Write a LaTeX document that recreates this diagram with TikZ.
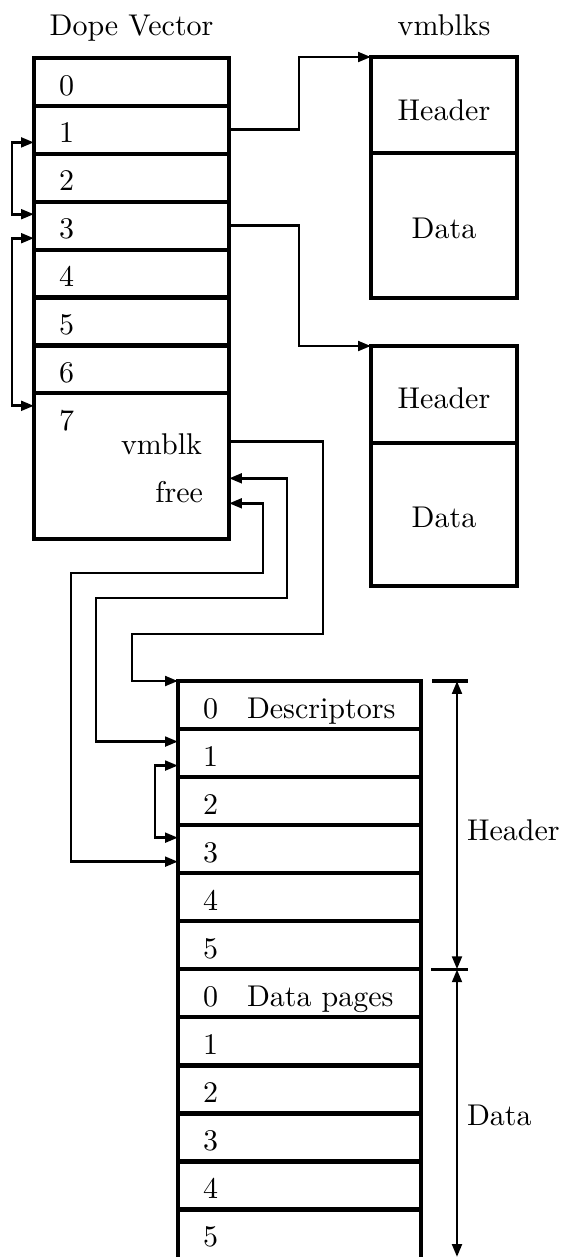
\documentclass[tikz,border=0pt]{standalone}
\usetikzlibrary{arrows.meta,calc}
\newdimen\pxu \pxu=0.33333pt
\begin{document}
\begin{tikzpicture}[x=0.33333pt,y=-0.33333pt,
  frame/.style={line width=1.05pt},
  sepline/.style={line width=1.4pt},
  link/.style={line width=0.95pt},
  >={Triangle[length=4.3pt,width=3.2pt]},
  cell/.style={rectangle,draw=none,inner sep=0pt,outer sep=0pt,anchor=north west},
  lbl/.style={inner sep=0pt,outer sep=0pt}]
\useasboundingbox (0,0) rectangle (565,1257);

% ---- dope vector: slots 0..7 ----
\foreach \i in {0,...,6}
  \node[cell,minimum width=195\pxu,minimum height=47.9\pxu] (dv\i) at (34,{58+47.9*\i}) {};
\node[cell,minimum width=195\pxu,minimum height=145.7\pxu] (dv7) at (34,393.3) {};
\draw[frame] (dv0.north west) rectangle (dv7.south east);
\foreach \i in {1,...,7}
  \draw[sepline] (dv\i.north west) -- ($(dv\i.north east)+(1.5,0)$);
\foreach \i in {0,...,7}
  \node[lbl,anchor=base west] (dvl\i) at ($(dv\i.north west)+(25,37)$) {\i};
\node[lbl,anchor=base] (dvtitle) at ($(dv0.north)+(0,-23)$) {Dope Vector};
\node[lbl,anchor=base east] (vmblk) at ($(dv7.north east)+(-27,61)$) {vmblk};
\node[lbl,anchor=base east] (free) at ($(dv7.north east)+(-26,109)$) {free};

% ---- the two vmblks ----
\node[cell,minimum width=146\pxu,minimum height=96\pxu] (vh1) at (371,57) {};
\node[cell,minimum width=146\pxu,minimum height=145\pxu] (vd1) at (371,153) {};
\node[cell,minimum width=146\pxu,minimum height=97\pxu] (vh2) at (371,346) {};
\node[cell,minimum width=146\pxu,minimum height=143\pxu] (vd2) at (371,443) {};
\draw[frame] (vh1.north west) rectangle (vd1.south east);
\draw[sepline] (vd1.north west) -- (vd1.north east);
\draw[frame] (vh2.north west) rectangle (vd2.south east);
\draw[sepline] (vd2.north west) -- (vd2.north east);
\node[lbl,anchor=base] (vmtitle) at ($(vh1.north)+(0,-22)$) {vmblks};
\node[lbl,anchor=base] (vhl1) at ($(vh1.north)+(0,63)$) {Header};
\node[lbl,anchor=base] (vdl1) at ($(vd1.north)+(0,85)$) {Data};
\node[lbl,anchor=base] (vhl2) at ($(vh2.north)+(0,62)$) {Header};
\node[lbl,anchor=base] (vdl2) at ($(vd2.north)+(0,84.5)$) {Data};

% ---- the vmblk layout: header pages then data pages ----
\foreach \i in {0,...,10}
  \node[cell,minimum width=243\pxu,minimum height=48.05\pxu] (lb\i) at (178,{681+48.05*\i}) {};
\node[cell,minimum width=243\pxu,minimum height=50\pxu] (lb11) at (178,{681+48.05*11}) {};
\draw[frame] (lb0.north west) rectangle (lb11.south east);
\foreach \i in {1,...,11}
  \draw[sepline] (lb\i.north west) -- ($(lb\i.north east)+(1.5,0)$);
\foreach \r [evaluate=\r as \d using {int(mod(\r,6))}] in {0,...,11}
  \node[lbl,anchor=base west] (lbl\r) at ($(lb\r.north west)+(25,37)$) {\d};
\node[lbl,anchor=base west] (desc) at ($(lb0.north west)+(69,37)$) {Descriptors};
\node[lbl,anchor=base west] (dpages) at ($(lb6.north west)+(69,37)$) {Data pages};

% ---- extent markers ----
\coordinate (dataend) at ($(lb11.south east)+(36,-2.5)$);
\draw[frame] ($(lb0.north east)+(11,0)$) -- ++(36,0);
\draw[frame] ($(lb6.north east)+(10,0)$) -- ++(37,0);
\draw[link,<->] ($(lb0.north east)+(36,0)$) -- ($(lb6.north east)+(36,0)$);
\draw[link,<->] ($(lb6.north east)+(36,0)$) -- (dataend);
\node[lbl,anchor=base west] (hdrdim) at ($(lb0.north east)+(46,159)$) {Header};
\node[lbl,anchor=base west] (datdim) at ($(lb6.north east)+(46,155.7)$) {Data};

% ---- dope vector slots to vmblks ----
\draw[link,->] (dv1.east) -- ++(70,0) |- (vh1.north west);
\draw[link,->] (dv3.east) -- ++(70,0) |- (vh2.north west);

% ---- free list through the dope vector ----
\draw[link,<->] ($(dv1.north west)+(0,36.5)$) -- ++(-22,0) |- ($(dv3.north west)+(0,12.5)$);
\draw[link,<->] ($(dv3.north west)+(0,36.5)$) -- ++(-22,0) |- ($(dv7.north west)+(0,12.5)$);

% ---- slot 7: vmblk pointer and free chains ----
\draw[link,->] ($(dv7.east |- vmblk.base)+(0,-13)$) -| ($(lb0.north west)+(145,-47)$)
  -| ($(lb0.north west)+(-46,0)$) -- (lb0.north west);
\draw[link,<->] ($(dv7.east |- free.base)+(0,-24)$) -| ($(lb0.north west)+(109,-83)$)
  -| ($(lb1.north west)+(-82,12.5)$) -- ($(lb1.north west)+(0,12.5)$);
\draw[link,<->] ($(dv7.east |- free.base)+(0,1)$) -| ($(lb0.north west)+(85,-108)$)
  -| ($(lb3.north west)+(-107,36.5)$) -- ($(lb3.north west)+(0,36.5)$);
\draw[link,<->] ($(lb1.north west)+(0,36.5)$) -- ++(-23,0) |- ($(lb3.north west)+(0,12.5)$);
\end{tikzpicture}
\end{document}
